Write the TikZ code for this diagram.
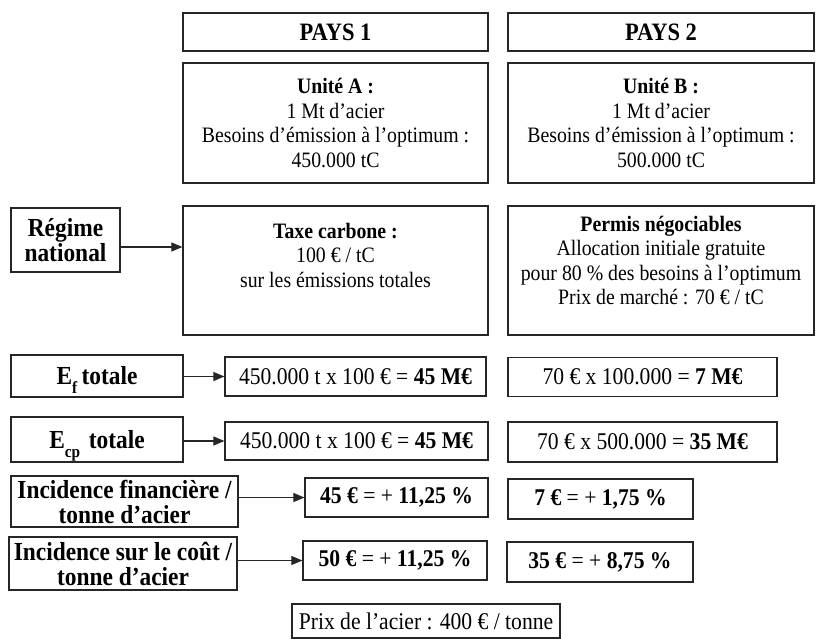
\documentclass[tikz,border=0pt]{standalone}
\usepackage{fontspec}
\setmainfont{Liberation Serif}[FakeStretch=0.9]
\usetikzlibrary{arrows.meta}
\begin{document}
\begin{tikzpicture}[x=1pt,y=-1pt]
\tikzset{
 box/.style={draw=black!85, line width=1.2pt, inner sep=0pt, align=center, text=black},
 body/.style={font=\fontsize{22}{24.5}\selectfont},
 head/.style={font=\fontsize{25}{27}\selectfont\bfseries},
 lab/.style={font=\fontsize{26}{25}\selectfont\bfseries},
 rowtxt/.style={font=\fontsize{24}{26}\selectfont},
 conn/.style={draw=black!85, line width=1.1pt, -{Triangle[length=11pt,width=9pt]}},
}
\useasboundingbox (0,0) rectangle (829,639);

\node[box,head,minimum width=305pt,minimum height=38pt] (P1) at (335.5,32) {PAYS 1};
\node[box,head,minimum width=306pt,minimum height=38pt] (P2) at (661,32) {PAYS 2};

\node[box,body,minimum width=305pt,minimum height=120pt] (UA) at (335.5,123)
  {\textbf{Unité A :}\\1 Mt d’acier\\Besoins d’émission à l’optimum :\\450.000 tC};
\node[box,body,minimum width=306pt,minimum height=120pt] (UB) at (661,123)
  {\textbf{Unité B :}\\1 Mt d’acier\\Besoins d’émission à l’optimum :\\500.000 tC};

\node[box,lab,minimum width=109pt,minimum height=64pt] (RN) at (65.5,240) {Régime\\national};
\node[box,body] (TX) at (335.5,270.5) {\begin{minipage}[c][129pt][t]{305pt}\centering\vspace{17pt}\textbf{Taxe carbone :}\\100 € / tC\\sur les émissions totales\end{minipage}};
\node[box,body] (PN) at (661,270.5) {\begin{minipage}[c][129pt][t]{306pt}\centering\vspace{10pt}\textbf{Permis négociables}\\Allocation initiale gratuite\\pour 80 \% des besoins à l’optimum\\Prix de marché : 70 € / tC\end{minipage}};

\node[box,lab,minimum width=172pt,minimum height=42pt] (EF) at (97,376)
  {E\raisebox{-9pt}[0pt][0pt]{\fontsize{17}{17}\selectfont f}\,totale};
\node[box,lab,minimum width=172pt,minimum height=45pt] (ECP) at (97,439.5)
  {E\raisebox{-9pt}[0pt][0pt]{\fontsize{17}{17}\selectfont cp}\,\,totale};
\node[box,lab,minimum width=227pt,minimum height=51pt] (IF) at (124.5,501.5) {Incidence financière /\\tonne d’acier};
\node[box,lab,minimum width=228pt,minimum height=53pt] (IC) at (123,563.5) {Incidence sur le coût /\\tonne d’acier};

\node[box,rowtxt,minimum width=261pt,minimum height=39pt] (EFm) at (355.5,376.5) {450.000 t x 100 € = \textbf{45 M€}};
\node[box,rowtxt,minimum width=269pt,minimum height=39pt] (EFr) at (642.5,377) {70 € x 100.000 = \textbf{7 M€}};
\node[box,rowtxt,minimum width=263pt,minimum height=38pt] (ECPm) at (356.5,441) {450.000 t x 100 € = \textbf{45 M€}};
\node[box,rowtxt,minimum width=269pt,minimum height=40pt] (ECPr) at (642.5,442) {70 € x 500.000 = \textbf{35 M€}};
\node[box,rowtxt,minimum width=183pt,minimum height=39pt] (IFm) at (396.5,497.5) {\textbf{45 €} = + \textbf{11,25 \%}};
\node[box,rowtxt,minimum width=185pt,minimum height=40pt] (IFr) at (600.5,499) {\textbf{7 €} = + \textbf{1,75 \%}};
\node[box,rowtxt,minimum width=184pt,minimum height=39pt] (ICm) at (395,560.5) {\textbf{50 €} = + \textbf{11,25 \%}};
\node[box,rowtxt,minimum width=186pt,minimum height=40pt] (ICr) at (600,562) {\textbf{35 €} = + \textbf{8,75 \%}};
\node[box,rowtxt,minimum width=268pt,minimum height=34pt] (PX) at (426,621) {Prix de l’acier : 400 € / tonne};

\coordinate (rn) at ([yshift=-7pt]RN.east);
\draw[conn] (rn) -- (rn -| TX.west);
\draw[conn] (EF.east |- EFm.west) -- (EFm.west);
\draw[conn] (ECP.east |- ECPm.west) -- (ECPm.west);
\draw[conn] (IF.east |- IFm.west) -- (IFm.west);
\draw[conn] (IC.east |- ICm.west) -- (ICm.west);
\end{tikzpicture}
\end{document}
